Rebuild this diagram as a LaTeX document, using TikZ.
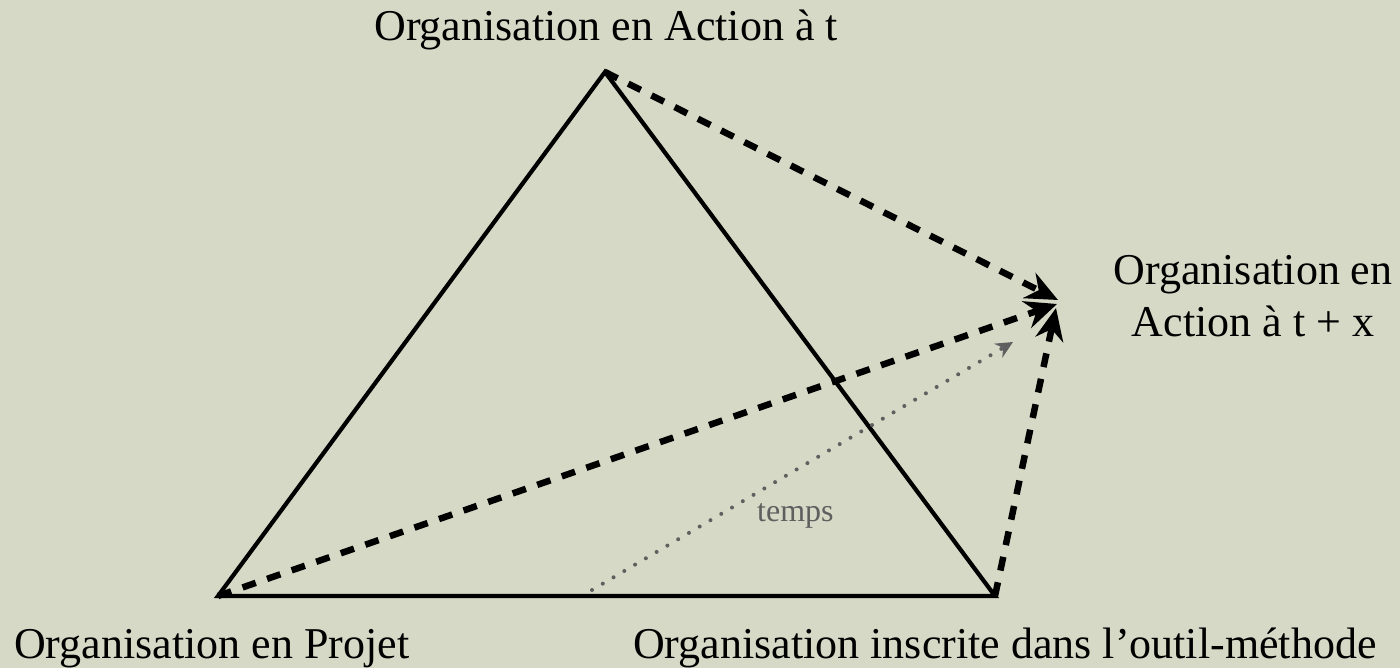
\documentclass[tikz,border=0pt]{standalone}
\usepackage{fontspec}
\setmainfont{Liberation Serif}
\usetikzlibrary{arrows.meta}
\definecolor{bg}{RGB}{214,217,198}
\definecolor{tgray}{RGB}{95,95,95}
\tikzset{
  lbl/.style={inner sep=0pt, font=\fontsize{44}{52}\selectfont, text=black},
  tri/.style={line width=4.2pt, line join=miter, draw=black},
  dasharrow/.style={line width=6.5pt, dash pattern=on 14pt off 12pt, draw=black, -{Stealth[length=32pt,width=28pt]}},
  dotarrow/.style={line width=4pt, line cap=round, dash pattern=on 0pt off 12.5pt, draw=tgray, -{Stealth[length=17pt,width=16pt]}},
}
\begin{document}
\begin{tikzpicture}[x=1pt,y=-1pt]
\fill[bg] (0,0) rectangle (1400,668);
\useasboundingbox (0,0) rectangle (1400,668);
\coordinate (T) at (605,72);
\coordinate (L) at (218,596);
\coordinate (R) at (995,596);
\coordinate (XA) at (1058,300);
\coordinate (XB) at (1057,304);
\coordinate (XC) at (1056,308);
\coordinate (G0) at (592,590);
\coordinate (G1) at (1013,342);
\draw[tri] (T) -- (L) -- (R) -- cycle;
\draw[dotarrow] (G0) -- (G1);
\draw[dasharrow] (T) -- (XA);
\draw[dasharrow] (L) -- (XB);
\draw[dasharrow] (R) -- (XC);
\node[lbl, anchor=base] (top) at (606,41) {Organisation en Action à t};
\node[lbl, anchor=base west] (bl) at (14,658) {Organisation en Projet};
\node[lbl, anchor=base west] (br) at (633,658) {Organisation inscrite dans l’outil-méthode};
\node[lbl, anchor=base] (rt1) at (1253,285) {Organisation en};
\node[lbl, anchor=base] (rt2) at (1253,337) {Action à t + x};
\node[inner sep=0pt, anchor=base west, text=tgray, font=\fontsize{32}{38}\selectfont] (tp) at (757,521) {temps};
\end{tikzpicture}
\end{document}
